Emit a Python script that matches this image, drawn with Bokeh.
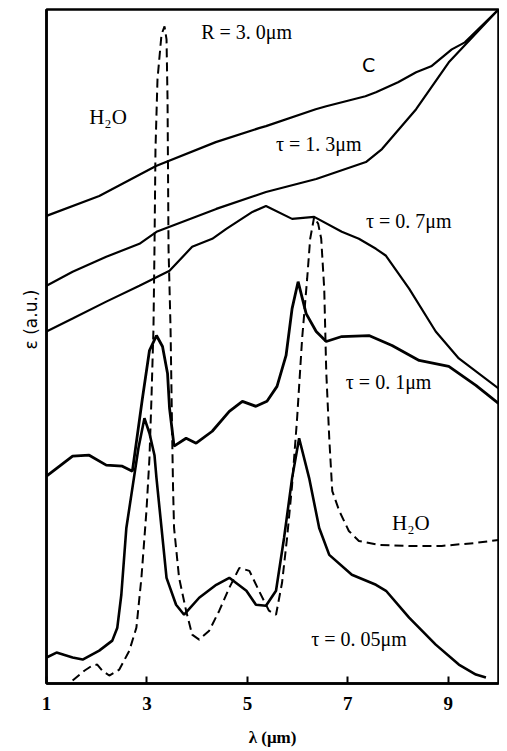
from bokeh.plotting import figure
from bokeh.models import Range1d, FixedTicker
from bokeh.embed import file_html
from bokeh.resources import INLINE
from bokeh.core.properties import value

# wavelength (um) / emissivity (a.u.)
c_x = [1.0, 2.05, 3.18, 4.37, 5.23, 5.37, 6.36, 6.57, 7.35, 7.56, 8.0, 8.36, 8.66, 9.07, 9.33, 10.0]
c_y = [469, 489, 519, 543, 557, 559, 576, 579, 589, 593, 603, 613, 619, 636, 643, 676]

t13_x = [1.0, 1.52, 2.19, 2.85, 3.19, 4.38, 5.37, 6.37, 7.36, 7.68, 8.36, 9.01, 10.0]
t13_y = [399, 413, 428, 441, 453, 476, 493, 506, 523, 536, 576, 623, 676]

t07_x = [1.0, 1.52, 2.19, 2.85, 3.45, 3.90, 4.30, 4.58, 5.10, 5.37, 5.89, 6.33, 6.88,
         7.22, 7.56, 7.76, 8.22, 8.75, 9.21, 10.0]
t07_y = [353, 366, 383, 399, 414, 438, 446, 456, 473, 479, 466, 468, 453,
         446, 436, 429, 396, 353, 326, 296]

t01_x = [1.0, 1.26, 1.52, 1.85, 2.19, 2.51, 2.71, 2.91, 3.05, 3.19, 3.31, 3.41, 3.45,
         3.54, 3.78, 3.98, 4.30, 4.64, 4.90, 5.17, 5.39, 5.59, 5.77, 5.89, 6.01, 6.17,
         6.37, 6.57, 6.88, 7.42, 7.88, 8.42, 9.01, 9.55, 10.0]
t01_y = [208, 218, 228, 229, 219, 218, 213, 286, 334, 349, 338, 311, 276,
         238, 246, 241, 253, 273, 283, 278, 283, 298, 329, 376, 403, 371,
         353, 343, 348, 349, 339, 324, 318, 299, 281]

t005_x = [1.0, 1.20, 1.52, 1.72, 2.05, 2.31, 2.41, 2.49, 2.59, 2.71, 2.83, 2.95, 3.05,
          3.15, 3.19, 3.29, 3.39, 3.58, 3.74, 4.04, 4.38, 4.64, 4.98, 5.17, 5.37, 5.57,
          5.73, 5.89, 6.03, 6.23, 6.43, 6.63, 7.08, 7.56, 7.76, 8.22, 8.75, 9.21, 9.55, 9.75]
t005_y = [26, 31, 26, 24, 33, 43, 56, 89, 156, 196, 236, 266, 251,
          229, 206, 156, 106, 79, 69, 86, 99, 106, 93, 79, 78, 93,
          146, 206, 246, 206, 156, 129, 109, 99, 93, 66, 39, 19, 9, 6]

h2o_x = [1.52, 1.76, 1.91, 2.01, 2.11, 2.25, 2.45, 2.65, 2.79, 2.89, 2.99, 3.05, 3.09,
         3.13, 3.15, 3.17, 3.21, 3.29, 3.35, 3.39, 3.41, 3.43, 3.47, 3.50, 3.52, 3.54,
         3.64, 3.78, 3.90, 4.04, 4.24, 4.44, 4.64, 4.84, 5.04, 5.23, 5.43, 5.57, 5.69,
         5.79, 5.89, 5.99, 6.09, 6.19, 6.25, 6.33, 6.41, 6.47, 6.53, 6.57, 6.63, 6.69,
         6.83, 7.02, 7.22, 7.62, 8.22, 8.87, 9.55, 10.0]
h2o_y = [3, 13, 18, 19, 13, 8, 14, 33, 56, 106, 173, 226, 286,
         356, 436, 536, 606, 651, 659, 646, 586, 436, 356, 256, 196, 156,
         106, 73, 49, 44, 53, 73, 96, 116, 113, 93, 73, 69, 101,
         146, 199, 266, 346, 406, 446, 468, 461, 446, 396, 313, 246, 193,
         173, 153, 143, 139, 138, 138, 141, 144]

x_ticks = [1, 3, 5, 7, 9]

p = figure(width=499, height=749, output_backend="svg", toolbar_location=None,
           x_range=Range1d(1, 10), y_range=Range1d(0, 676),
           min_border_left=46, min_border_right=1, min_border_top=9, min_border_bottom=62)
p.grid.visible = False
p.outline_line_color = "black"
p.outline_line_width = 2.5
p.background_fill_color = "white"
p.border_fill_color = "white"

serif = "Liberation Serif"

p.xaxis.ticker = FixedTicker(ticks=x_ticks)
p.xaxis.major_tick_in = 7
p.xaxis.major_tick_out = 0
p.xaxis.minor_tick_line_color = None
p.xaxis.axis_line_width = 2.5
p.xaxis.major_tick_line_width = 2
p.xaxis.major_label_text_font = serif
p.xaxis.major_label_text_font_style = "bold"
p.xaxis.major_label_text_font_size = "19px"
p.xaxis.major_label_text_color = "black"
p.xaxis.major_label_standoff = 13
p.xaxis.axis_label = "λ (μm)"
p.xaxis.axis_label_text_font = serif
p.xaxis.axis_label_text_font_style = "bold"
p.xaxis.axis_label_text_font_size = "17px"
p.xaxis.axis_label_text_color = "black"
p.xaxis.axis_label_standoff = 15

p.yaxis.ticker = FixedTicker(ticks=[])
p.yaxis.major_tick_line_color = None
p.yaxis.minor_tick_line_color = None
p.yaxis.axis_line_width = 2.5
p.yaxis.axis_label = "\u00a0" * 10 + "ε (a.u.)"
p.yaxis.axis_label_text_font = "DejaVu Sans"
p.yaxis.axis_label_text_font_style = "normal"
p.yaxis.axis_label_text_font_size = "17px"
p.yaxis.axis_label_text_color = "black"
p.yaxis.axis_label_standoff = 6

p.line(c_x, c_y, line_color="black", line_width=2.2)
p.line(t13_x, t13_y, line_color="black", line_width=2.2)
p.line(t07_x, t07_y, line_color="black", line_width=2.2)
p.line(t01_x, t01_y, line_color="black", line_width=2.8)
p.line(t005_x, t005_y, line_color="black", line_width=2.6)
p.line(h2o_x, h2o_y, line_color="black", line_width=2.0, line_dash="9 5")

def label(x, y, s, size="16px", font=serif, style="normal"):
    p.text([x], [y], text=[s], text_font=value(font), text_font_size=size,
           text_font_style=style, text_baseline="middle", text_align="left",
           text_color="black")

label(4.08, 653, "R = 3. 0μm", "20px")
label(7.28, 620, "C", "19px", font="DejaVu Sans")
label(1.85, 568, "H₂O", "21px")
label(5.57, 541, "τ = 1. 3μm", "20px")
label(7.36, 464, "τ = 0. 7μm", "20px")
label(6.96, 302, "τ = 0. 1μm", "20px")
label(7.88, 161, "H₂O", "21px")
label(6.27, 45, "τ = 0. 05μm", "20px")

open("out.html", "w").write(file_html(p, INLINE))
